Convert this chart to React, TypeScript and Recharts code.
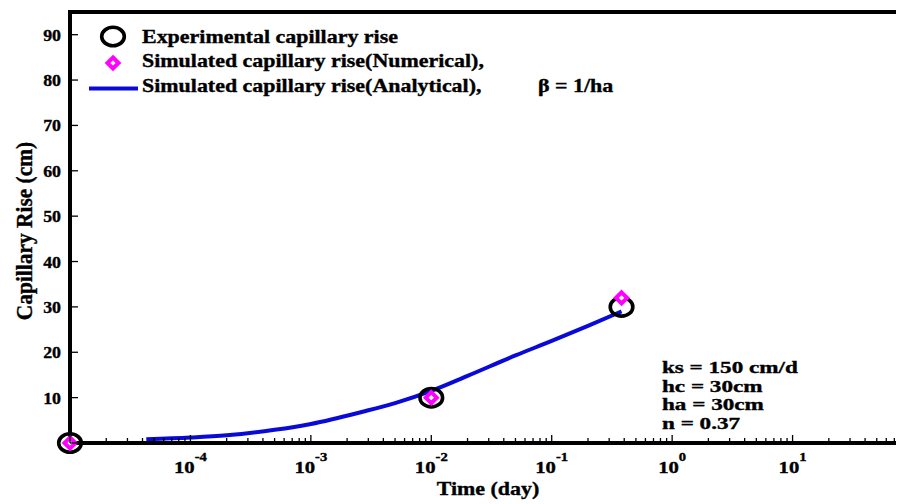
import React from "react";
import { ComposedChart, Line, Scatter, XAxis, YAxis, Customized } from "recharts";

// measured capillary rise (cm) against time (day)
const expTime = [1e-5, 1e-2, 0.38];
const expRise = [0, 10, 30];

// numerical model at the same times
const numTime = [1e-5, 1e-2, 0.38];
const numRise = [0, 10, 32];

// analytical solution, beta = 1/ha
const anaTime = [4.3e-5, 1e-4, 2e-4, 5e-4, 1e-3, 2.7e-3, 5e-3, 1e-2, 2e-2, 5e-2, 0.1, 0.2, 0.38];
const anaRise = [0.8, 1.2, 1.7, 2.9, 4.2, 6.9, 8.8, 11.5, 14.8, 19.3, 22.5, 25.8, 29];

const decades = [1e-5, 1e-4, 1e-3, 1e-2, 1e-1, 1, 10, 100];
const labelledExp = [-4, -3, -2, -1, 0, 1];
const yTicks = [0, 10, 20, 30, 40, 50, 60, 70, 80, 90];

const legendLabels = [
  "Experimental capillary rise",
  "Simulated capillary rise(Numerical),",
  "Simulated capillary rise(Analytical),",
];
const betaNote = "\u03b2 = 1/ha";
const params = ["ks = 150 cm/d", "hc = 30cm", "ha = 30cm", "n = 0.37"];

const expData = expTime.map((t, i) => ({ t, h: expRise[i] }));
const numData = numTime.map((t, i) => ({ t, h: numRise[i] }));
const anaData = anaTime.map((t, i) => ({ t, h: anaRise[i] }));

// major + minor (2..9) ticks of every decade
const xTicks: number[] = [];
decades.forEach((d, i) => {
  xTicks.push(d);
  if (i < decades.length - 1) for (let k = 2; k <= 9; k++) xTicks.push(d * k);
});

const SERIF = '"Liberation Serif", "Times New Roman", serif';
const SX = 1.22;
const BLUE = "#0a0ad8";
const MAGENTA = "#ff00ff";

const isMajor = (v: number) => Math.abs(Math.log10(v) - Math.round(Math.log10(v))) < 1e-6;

const Txt = ({ x, y, size, anchor = "start", sx = SX, children }: any) => (
  <text
    transform={`translate(${x} ${y}) scale(${sx} 1)`}
    textAnchor={anchor}
    fontFamily={SERIF}
    fontWeight="bold"
    fontSize={size}
    fill="#000"
    stroke="#000"
    strokeWidth={0.35}
  >
    {children}
  </text>
);

const BottomTick = ({ x, y, payload }: any) => {
  const v = payload.value;
  const e = Math.round(Math.log10(v));
  const major = isMajor(v);
  return (
    <g>
      <line x1={x} x2={x} y1={y} y2={y - (major ? 8 : 5)} stroke="#000" strokeWidth={1.3} />
      {major && labelledExp.includes(e) && (
        <Txt x={x} y={y + 30} size={17} anchor="middle">
          10
          <tspan dy={-12} fontSize={12}>
            {`${e}`}
          </tspan>
        </Txt>
      )}
    </g>
  );
};

const TopTick = ({ x, y, payload }: any) => (
  <line x1={x} x2={x} y1={y} y2={y + (isMajor(payload.value) ? 8 : 5)} stroke="#000" strokeWidth={1.3} />
);

const LeftTick = ({ x, y, payload }: any) => (
  <g>
    <line x1={x} x2={x + 8} y1={y} y2={y} stroke="#000" strokeWidth={1.3} />
    {payload.value > 0 && (
      <Txt x={x - 9} y={y + 6} size={17} anchor="end" sx={1.05}>
        {payload.value}
      </Txt>
    )}
  </g>
);

const RightTick = ({ x, y }: any) => (
  <line x1={x} x2={x - 15} y1={y} y2={y} stroke="#000" strokeWidth={1.3} />
);

const Circle = ({ cx, cy }: any) => (
  <ellipse cx={cx} cy={cy} rx={11.3} ry={9.2} fill="none" stroke="#000" strokeWidth={3.6} />
);

const Diamond = ({ cx, cy }: any) => (
  <polygon
    points={`${cx},${cy - 5.5} ${cx + 5.5},${cy} ${cx},${cy + 5.5} ${cx - 5.5},${cy}`}
    fill="#fff"
    stroke={MAGENTA}
    strokeWidth={4}
  />
);

const Notes = () => (
  <g>
    <Circle cx={113} cy={36.5} />
    <Diamond cx={113} cy={63} />
    <line x1={89} x2={138} y1={88.5} y2={88.5} stroke={BLUE} strokeWidth={4} />
    {legendLabels.map((s, i) => (
      <Txt key={s} x={142} y={42.5 + i * 24.7} size={18}>
        {s}
      </Txt>
    ))}
    <Txt x={538} y={92} size={18}>
      {betaNote}
    </Txt>
    {params.map((s, i) => (
      <Txt key={s} x={662} y={373 + i * 18.5} size={17} sx={1.36}>
        {s}
      </Txt>
    ))}
    <Txt x={488} y={495} size={18} anchor="middle">
      Time (day)
    </Txt>
    <text
      transform="translate(32 231) rotate(-90) scale(1 1.05)"
      textAnchor="middle"
      fontFamily={SERIF}
      fontWeight="bold"
      fontSize={21.4}
      stroke="#000"
      strokeWidth={0.35}
    >
      Capillary Rise (cm)
    </text>
  </g>
);

const axisStroke = { stroke: "#000", strokeWidth: 4, strokeLinecap: "square" as const };

export default function App() {
  return (
    <div style={{ position: "relative", width: 896, height: 496, overflow: "hidden", background: "#fff" }}>
      <style>{"html{overflow:hidden}"}</style>
      <div style={{ position: "absolute", left: -8, top: -8 }}>
        <ComposedChart width={940} height={504} margin={{ top: 0, right: 0, bottom: 0, left: 0 }}>
          <XAxis
            dataKey="t"
            type="number"
            scale="log"
            domain={[1e-5, 100]}
            ticks={xTicks}
            interval={0}
            height={61}
            tickSize={0}
            tickMargin={0}
            tickLine={false}
            axisLine={axisStroke}
            tick={<BottomTick />}
          />
          <XAxis
            xAxisId="top"
            orientation="top"
            type="number"
            scale="log"
            domain={[1e-5, 100]}
            allowDataOverflow
            ticks={xTicks}
            interval={0}
            height={12}
            tickSize={0}
            tickMargin={0}
            tickLine={false}
            axisLine={axisStroke}
            tick={<TopTick />}
          />
          <YAxis
            type="number"
            domain={[0, 95]}
            ticks={yTicks}
            interval={0}
            width={70}
            tickSize={0}
            tickMargin={0}
            tickLine={false}
            axisLine={axisStroke}
            tick={<LeftTick />}
          />
          <YAxis
            yAxisId="right"
            orientation="right"
            type="number"
            domain={[0, 95]}
            allowDataOverflow
            ticks={yTicks}
            interval={0}
            width={27}
            tickSize={0}
            tickMargin={0}
            tickLine={false}
            axisLine={axisStroke}
            tick={<RightTick />}
          />
          <Scatter data={expData} dataKey="h" shape={<Circle />} isAnimationActive={false} />
          <Scatter data={numData} dataKey="h" shape={<Diamond />} isAnimationActive={false} />
          <Line
            data={anaData}
            dataKey="h"
            type="monotone"
            stroke={BLUE}
            strokeWidth={4}
            dot={false}
            activeDot={false}
            isAnimationActive={false}
          />
          <Customized component={<Notes />} />
        </ComposedChart>
      </div>
    </div>
  );
}
